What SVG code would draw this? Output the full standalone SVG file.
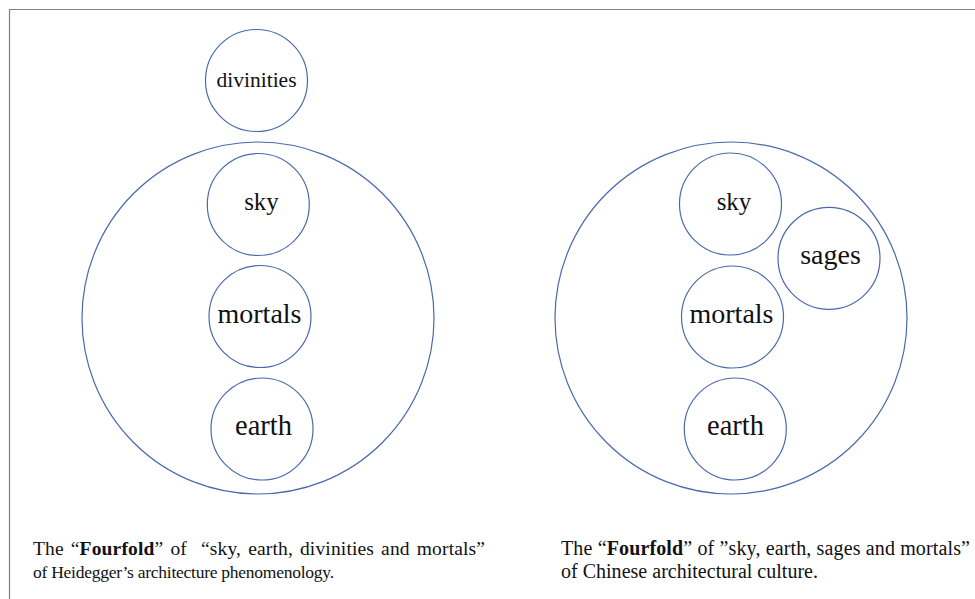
<svg xmlns="http://www.w3.org/2000/svg" width="975" height="599" viewBox="0 0 975 599">
  <style>
    .c { fill: none; stroke: #4a69ad; stroke-width: 1.2; }
    .lbl { font-family: "Liberation Serif", "Times New Roman", serif; fill: #111; text-anchor: middle; }
    .cap { font-family: "Liberation Serif", "Times New Roman", serif; fill: #111; }
    .frame { stroke: #808080; stroke-width: 1.2; fill: none; }
  </style>
  <rect x="0" y="0" width="975" height="599" fill="#ffffff"/>
  <path class="frame" d="M9.5 599 V9.5 H975"/>

  <g id="heidegger">
    <circle id="outer-left" class="c" cx="258" cy="318" r="176"/>
    <g id="divinities">
      <circle class="c" cx="256.5" cy="80.5" r="51"/>
      <text class="lbl" x="256.5" y="86.5" font-size="21.5">divinities</text>
    </g>
    <g id="sky-left">
      <circle class="c" cx="258.3" cy="204.5" r="51"/>
      <text class="lbl" x="261.5" y="210" font-size="25">sky</text>
    </g>
    <g id="mortals-left">
      <circle class="c" cx="260" cy="316.5" r="51"/>
      <text class="lbl" x="259.5" y="323" font-size="28">mortals</text>
    </g>
    <g id="earth-left">
      <circle class="c" cx="262" cy="429" r="51"/>
      <text class="lbl" x="263.5" y="435" font-size="28.5">earth</text>
    </g>
  </g>

  <g id="chinese">
    <circle id="outer-right" class="c" cx="731" cy="318" r="176"/>
    <g id="sky-right">
      <circle class="c" cx="730.5" cy="204" r="51"/>
      <text class="lbl" x="734" y="209.5" font-size="25">sky</text>
    </g>
    <g id="sages">
      <circle class="c" cx="829" cy="258.3" r="51"/>
      <text class="lbl" x="830.5" y="264" font-size="28">sages</text>
    </g>
    <g id="mortals-right">
      <circle class="c" cx="732.5" cy="317" r="51"/>
      <text class="lbl" x="731.5" y="323" font-size="28">mortals</text>
    </g>
    <g id="earth-right">
      <circle class="c" cx="735.3" cy="429" r="51"/>
      <text class="lbl" x="735.5" y="434.5" font-size="28.5">earth</text>
    </g>
  </g>

  <g id="connectors"></g>

  <g id="captions">
    <text class="cap" x="33" y="555" font-size="19.5" word-spacing="2" textLength="452" lengthAdjust="spacing" xml:space="preserve">The “<tspan font-weight="bold">Fourfold</tspan>” of  “sky, earth, divinities and mortals”</text>
    <text class="cap" x="33" y="578" font-size="17.5" textLength="301" lengthAdjust="spacing">of Heidegger’s architecture phenomenology.</text>
    <text class="cap" x="561" y="555" font-size="20" textLength="409" lengthAdjust="spacing">The “<tspan font-weight="bold">Fourfold</tspan>” of ”sky, earth, sages and mortals”</text>
    <text class="cap" x="561" y="578" font-size="20" textLength="257" lengthAdjust="spacing">of Chinese architectural culture.</text>
  </g>
</svg>
